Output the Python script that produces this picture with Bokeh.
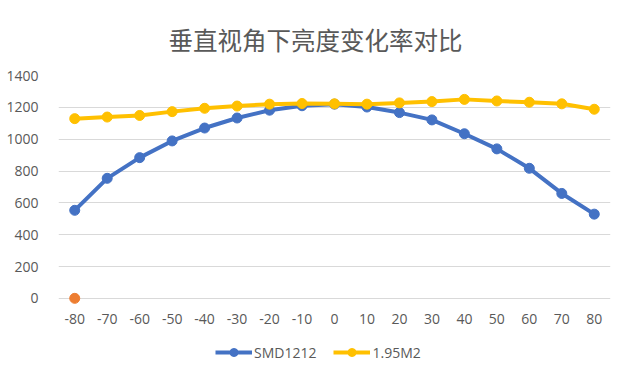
from bokeh.plotting import figure
from bokeh.models import Range1d, FixedTicker, Legend, LegendItem
from bokeh.layouts import column
from bokeh.embed import file_html
from bokeh.resources import INLINE

angles = [-80, -70, -60, -50, -40, -30, -20, -10, 0, 10, 20, 30, 40, 50, 60, 70, 80]
smd1212 = [553, 754, 884, 989, 1070, 1133, 1182, 1210, 1220, 1202, 1167, 1121, 1034, 939, 817, 659, 529]
m195 = [1129, 1139, 1149, 1173, 1194, 1208, 1220, 1224, 1222, 1220, 1228, 1236, 1250, 1240, 1232, 1222, 1188]
extra_x = [-80]
extra_y = [0]
y_ticks = [0, 200, 400, 600, 800, 1000, 1200, 1400]
series_names = ["SMD1212", "1.95M2"]
title_text = "垂直视角下亮度变化率对比"

BLUE = "#4472C4"
GOLD = "#FFC000"
ORANGE = "#ED7D31"
GRAY_TXT = "#595959"
GRID = "#D9D9D9"

p = figure(width=630, height=335, output_backend="svg", toolbar_location=None,
           x_range=Range1d(-85, 85), y_range=Range1d(-45, 1400),
           min_border_left=58, min_border_right=20, min_border_top=67, min_border_bottom=30)

p.title.text = title_text
p.title.text_font = "Noto Sans CJK SC"
p.title.text_font_size = "24.5px"
p.title.text_font_style = "normal"
p.title.text_color = GRAY_TXT
p.title.align = "left"
p.title.offset = 110
p.title.standoff = 38

p.outline_line_color = None
p.background_fill_color = "white"
p.border_fill_color = "white"

p.xgrid.grid_line_color = None
p.ygrid.grid_line_color = GRID
p.ygrid.grid_line_width = 1

p.xaxis.ticker = FixedTicker(ticks=angles)
p.xaxis.major_label_overrides = {a: str(a) for a in angles}
p.yaxis.ticker = FixedTicker(ticks=y_ticks)
for ax in (p.xaxis, p.yaxis):
    ax.major_tick_line_color = None
    ax.minor_tick_line_color = None
    ax.axis_line_color = None
    ax.major_label_text_font = "Open Sans"
    ax.major_label_text_font_size = "14px"
    ax.major_label_text_color = GRAY_TXT
p.yaxis.major_label_standoff = 14
p.xaxis.major_label_standoff = 2

p.line(angles, smd1212, line_color=BLUE, line_width=4)
p.scatter(angles, smd1212, size=10, fill_color=BLUE, line_color=BLUE)
p.line(angles, m195, line_color=GOLD, line_width=4)
p.scatter(angles, m195, size=10, fill_color=GOLD, line_color=GOLD)
p.scatter(extra_x, extra_y, size=10, fill_color=ORANGE, line_color=ORANGE)

# legend strip below the chart (its renderers hold points outside its view)
q = figure(width=630, height=44, output_backend="svg", toolbar_location=None,
           x_range=Range1d(0, 1), y_range=Range1d(0, 1),
           x_axis_type=None, y_axis_type=None,
           min_border_left=0, min_border_right=0, min_border_top=0, min_border_bottom=0)
q.outline_line_color = None
q.xgrid.grid_line_color = None
q.ygrid.grid_line_color = None
q.border_fill_color = "white"
ql1 = q.line(angles[:1], smd1212[:1], line_color=BLUE, line_width=4)
qs1 = q.scatter(angles[:1], smd1212[:1], size=10, fill_color=BLUE, line_color=BLUE)
ql2 = q.line(angles[:1], m195[:1], line_color=GOLD, line_width=4)
qs2 = q.scatter(angles[:1], m195[:1], size=10, fill_color=GOLD, line_color=GOLD)

legend = Legend(items=[LegendItem(label=series_names[0], renderers=[ql1, qs1]),
                       LegendItem(label=series_names[1], renderers=[ql2, qs2])],
                orientation="horizontal", location=(157, 17),
                padding=0, margin=0, spacing=17, glyph_width=37, glyph_height=20,
                label_height=20, label_standoff=2,
                label_text_font="Open Sans", label_text_font_size="14px",
                label_text_color=GRAY_TXT, background_fill_alpha=0,
                border_line_color=None)
q.add_layout(legend, "center")

layout = column(p, q, spacing=0)
open("out.html", "w").write(file_html(layout, INLINE))
